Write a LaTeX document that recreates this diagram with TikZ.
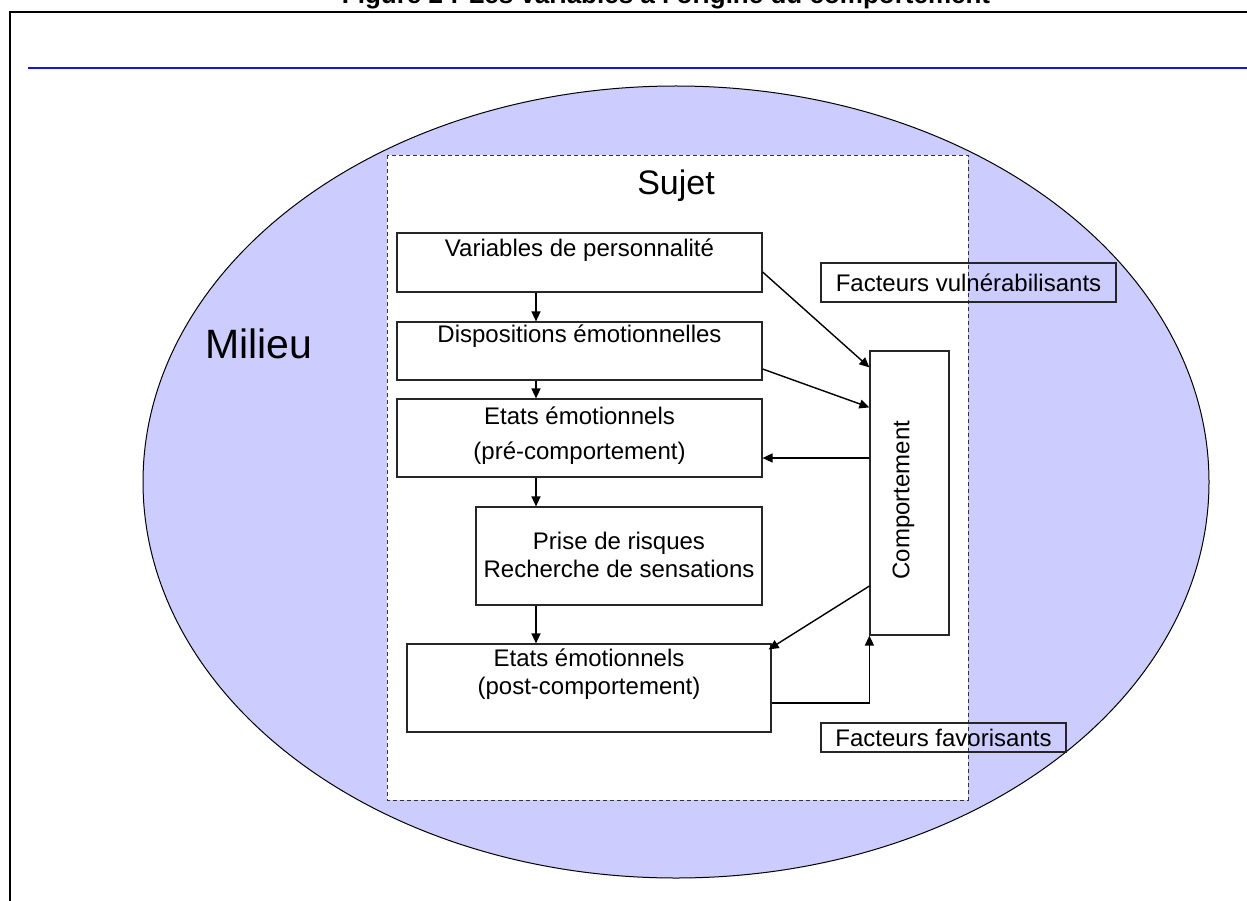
\documentclass[tikz,border=0pt]{standalone}
\usepackage{fontspec}
\setmainfont{Liberation Sans}
\usepackage{tikz}
\usetikzlibrary{arrows.meta, positioning}
\definecolor{milieublue}{RGB}{204,204,255}
\definecolor{lineblue}{RGB}{20,20,235}

\tikzset{
    box/.style={rectangle,draw=black!85,line width=1.2pt,fill=white,inner sep=0pt},
    lbl/.style={font=\fontsize{24}{28}\selectfont,inner sep=0pt,align=center},
    arr/.style={-{Triangle[length=10pt,width=9pt]},line width=1.4pt}
}

\begin{document}
\begin{tikzpicture}[x=1pt,y=-1pt]
    \useasboundingbox (0,0) rectangle (1247,901);
    \clip (0,0) rectangle (1247,901);
    % Titre
    \node[font=\fontsize{26}{31}\selectfont\bfseries,anchor=base,inner sep=0pt] (titre) at (666,4) {Figure 2 : Les variables à l'origine du comportement};
    % Cadre
    \draw[line width=1.5pt] (10,901) -- (10,12) -- (1247,12);
    \draw[lineblue,line width=2pt] (28,68) -- (1247,68);

    % Milieu
    \draw[fill=milieublue,line width=1pt] (676,482) ellipse [x radius=533pt,y radius=396pt];
    \node[font=\fontsize{41}{49}\selectfont,anchor=base west,inner sep=0pt] (milieu) at (205,358) {Milieu};

    % Sujet
    \draw[fill=white,draw=black!80,dash pattern=on 4pt off 3pt,line width=0.8pt] (387,155) rectangle (968,800);
    \node[font=\fontsize{34}{40}\selectfont,anchor=base,inner sep=0pt] (sujet) at (676,195) {Sujet};

    % Boites
    \node[box,minimum width=365pt,minimum height=59pt] (vars) at (579.5,262.5) {};
    \node[lbl] (varstxt) at (vars.north) [below=6.5pt] {Variables de personnalité};
    \node[box,minimum width=365pt,minimum height=58pt] (disp) at (579.5,351) {};
    \node[lbl] (disptxt) at (disp.north) [below=3.5pt] {Dispositions émotionnelles};
    \node[box,minimum width=365pt,minimum height=78pt] (pre) at (579.5,438) {};
    \node[lbl] (pretxt) at (pre.north) [below=8.5pt] {Etats émotionnels\\[7pt](pré-comportement)};
    \node[box,minimum width=286pt,minimum height=98pt] (risk) at (619,556) {};
    \node[lbl] (risktxt) at (risk.north) [below=25.5pt] {Prise de risques\\Recherche de sensations};
    \node[box,minimum width=364pt,minimum height=88pt] (post) at (589,688) {};
    \node[lbl] (posttxt) at (post.north) [below=5.5pt] {Etats émotionnels\\(post-comportement)};

    % Comportement
    \node[box,minimum width=79pt,minimum height=284pt] (comp) at (909.5,493) {};
    \node[lbl,rotate=90] (comptxt) at (903.5,500) {Comportement};

    % Facteurs
    \node[box,lbl,fill=none,minimum width=295pt,minimum height=39pt] (vuln) at (968.5,282.5) {Facteurs vulnérabilisants};
    \node[box,lbl,fill=none,minimum width=245pt,minimum height=29pt] (fav) at (943.5,737.5) {Facteurs favorisants};

    % Fleches
    \draw[arr] (vars.south -| 536,0) -- (disp.north -| 536,0);
    \draw[arr] (disp.south -| 536,0) -- (pre.north -| 536,0);
    \draw[arr] (pre.south -| 536,0) -- (risk.north -| 536,0);
    \draw[arr] (risk.south -| 536,0) -- (post.north -| 536,0);
    \draw[arr] ([yshift=-9.5pt]vars.east) -- ([yshift=-17pt]comp.north west);
    \draw[arr] ([yshift=-18pt]disp.east) -- ([yshift=-57pt]comp.north west);
    \draw[arr] (comp.west |- 0,458) -- (pre.east |- 0,458);
    \draw[arr] (comp.west |- 0,586) -- ([xshift=-3pt,yshift=-6pt]post.north east);
    \draw[arr] (post.east |- 0,703) -| (comp.south west);
\end{tikzpicture}
\end{document}
